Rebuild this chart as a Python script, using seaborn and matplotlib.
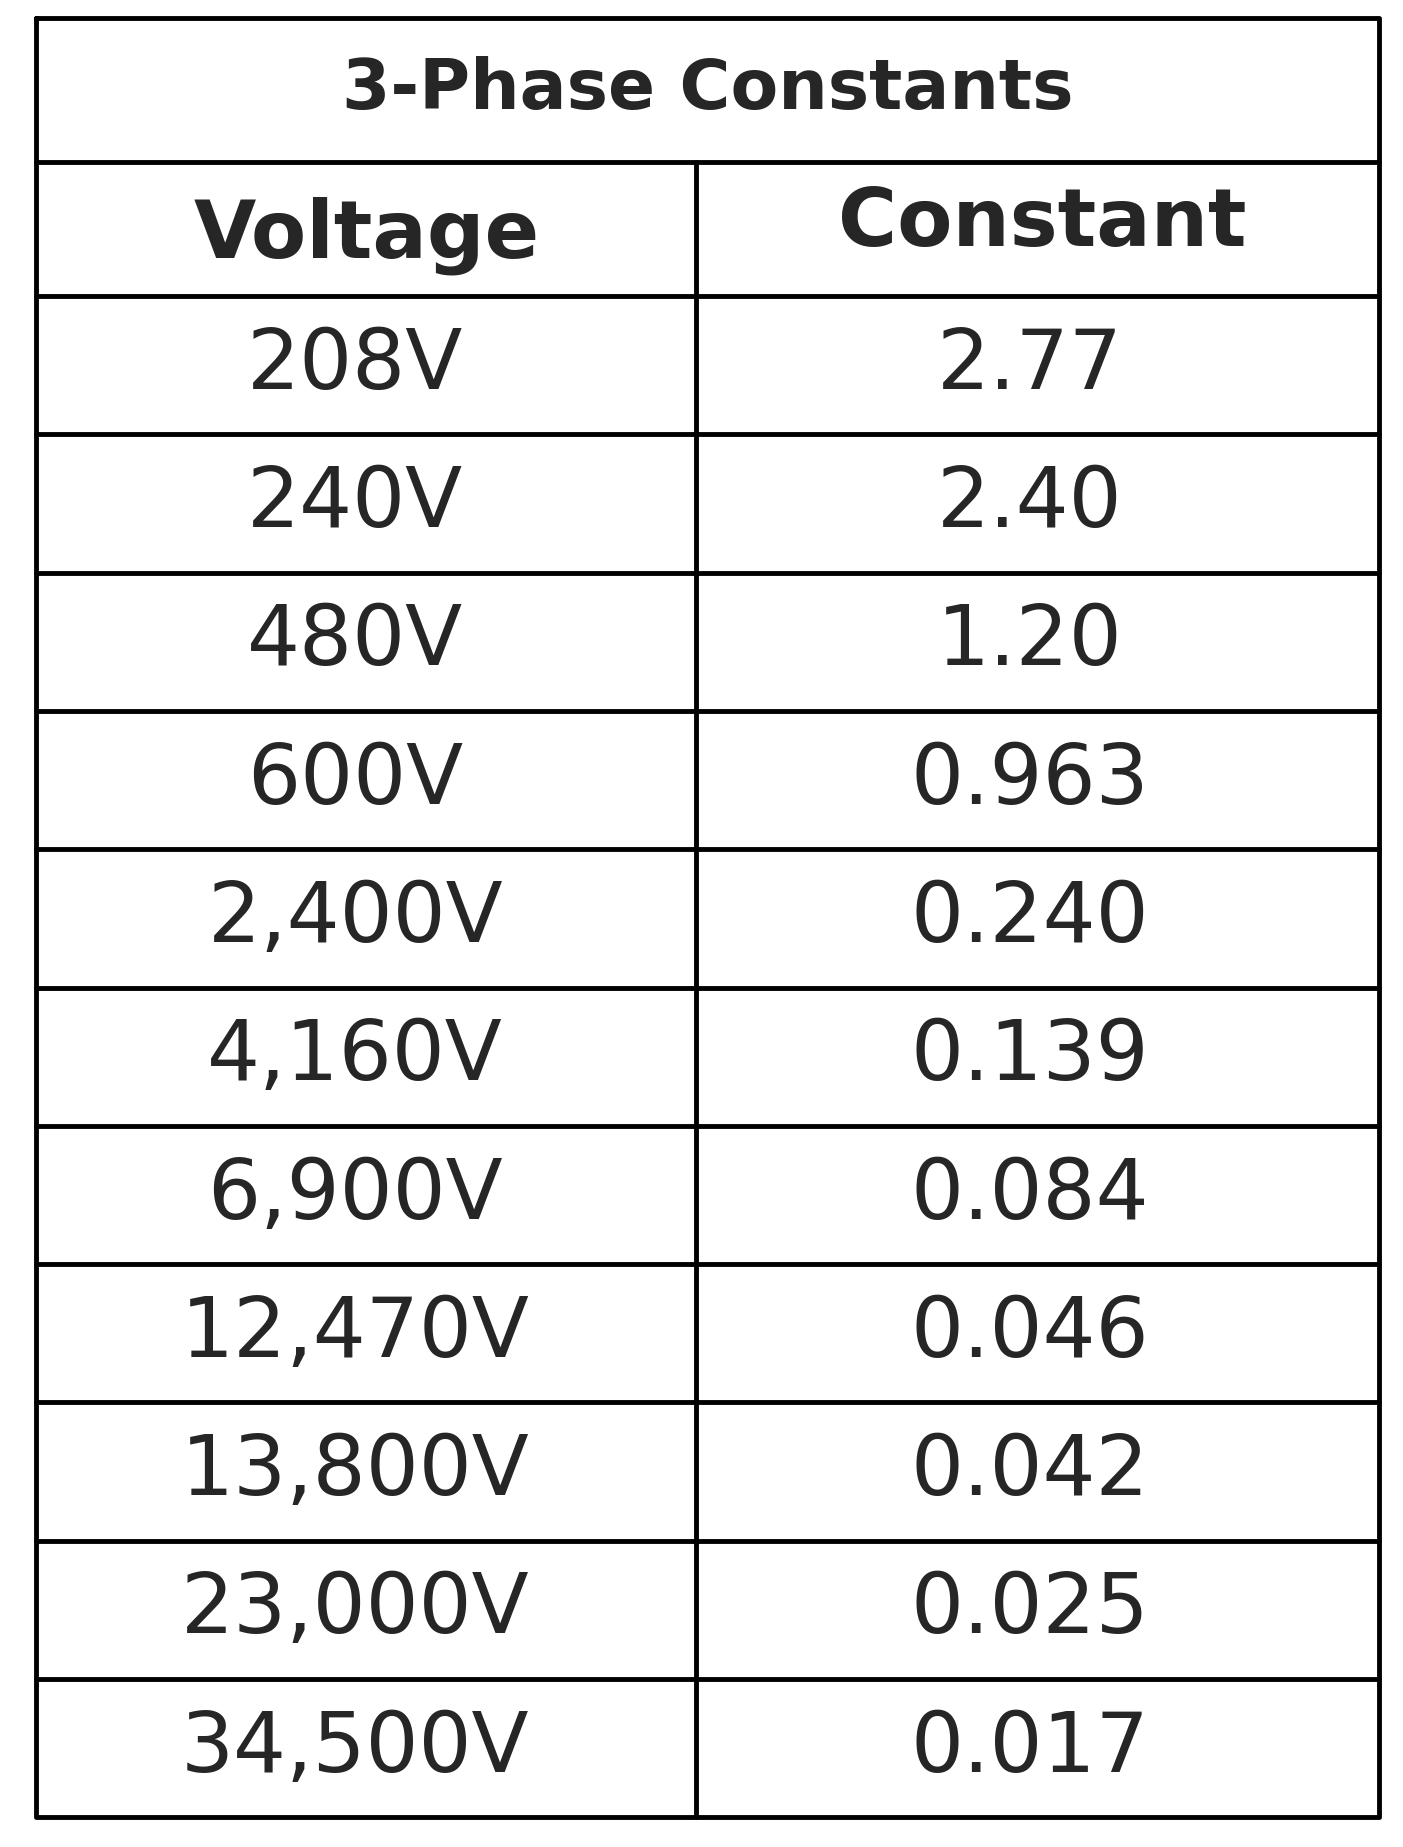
import matplotlib
matplotlib.use("Agg")
import matplotlib.pyplot as plt
import seaborn as sns

sns.set_theme(style="white")
plt.rcParams['font.family'] = ['DejaVu Sans']

title = "3-Phase Constants"
headers = ["Voltage", "Constant"]
voltages = ["208V", "240V", "480V", "600V", "2,400V", "4,160V", "6,900V",
            "12,470V", "13,800V", "23,000V", "34,500V"]
constants = ["2.77", "2.40", "1.20", "0.963", "0.240", "0.139", "0.084",
             "0.046", "0.042", "0.025", "0.017"]

W, H = 1185, 1560
fig = plt.figure(figsize=(14.03, 18.47), dpi=100)
ax = fig.add_axes([0, 0, 1, 1])
ax.set_xlim(0, W)
ax.set_ylim(H, 0)
ax.axis("off")

L, R, T, B = 30, 1165, 15, 1535
title_b = 137
head_b = 250
n = len(voltages)
rh = (B - head_b) / n
colx = 588
lw = 3.5
# outer box
ax.plot([L, R, R, L, L], [T, T, B, B, T], color="black", lw=lw)
ax.plot([L, R], [title_b, title_b], color="black", lw=lw)
ax.plot([L, R], [head_b, head_b], color="black", lw=lw)
ax.plot([colx, colx], [title_b, B], color="black", lw=lw)
for i in range(1, n):
    y = head_b + i * rh
    ax.plot([L, R], [y, y], color="black", lw=lw)

ax.text((L + R) / 2, (T + title_b) / 2, title, ha="center", va="center",
        fontsize=50, fontweight="bold")
ax.text(310, (title_b + head_b) / 2 + 6, headers[0], ha="center", va="center",
        fontsize=58, fontweight="bold")
ax.text(880, (title_b + head_b) / 2 - 4, headers[1], ha="center", va="center",
        fontsize=58, fontweight="bold")
for i, (v, c) in enumerate(zip(voltages, constants)):
    yc = head_b + (i + 0.5) * rh
    ax.text(300, yc, v, ha="center", va="center", fontsize=60)
    ax.text(870, yc, c, ha="center", va="center", fontsize=60)

fig.savefig("out.png", dpi=100, facecolor="white")
